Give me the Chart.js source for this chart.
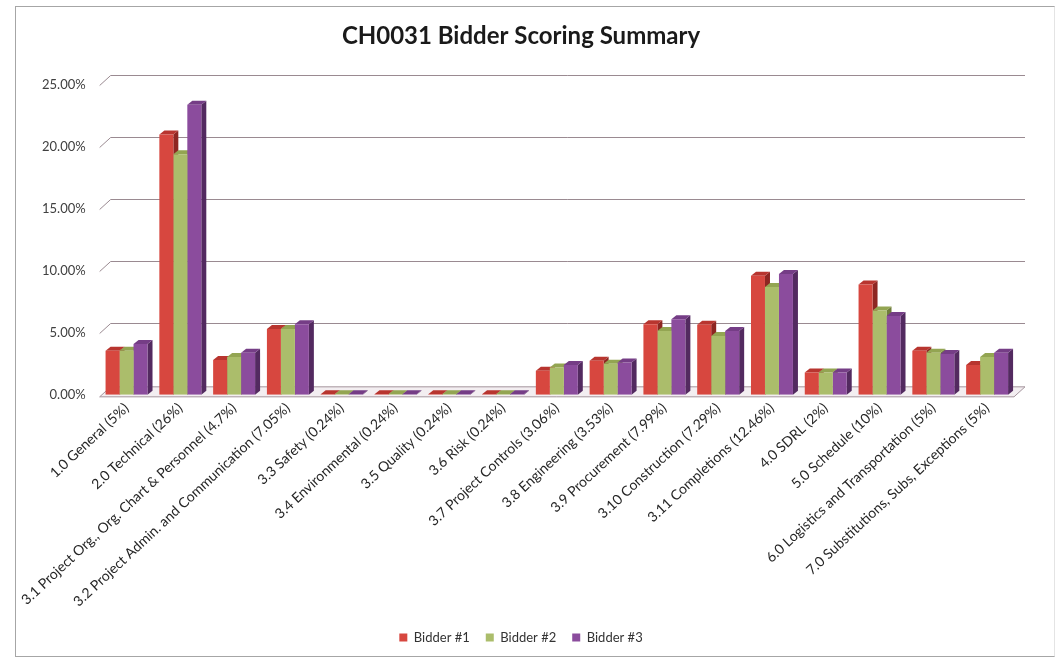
<!DOCTYPE html>
<html>
<head>
<meta charset="utf-8">
<title>CH0031 Bidder Scoring Summary</title>
<script src="https://cdn.jsdelivr.net/npm/chart.js@4/dist/chart.umd.min.js"></script>
<style>
  html, body { margin: 0; padding: 0; background: #fff; }
  #frame {
    position: absolute; left: 15px; top: 6px;
    width: 1038px; height: 649px;
    border: 1px solid #a6a6a6; border-right-color: #e4e4e4;
  }
  #frame canvas { display: block; }
</style>
</head>
<body>
<div id="frame"><canvas id="scoreChart"></canvas></div>
<script>
// ── Bidder scoring summary ────────────────────────────────────────────────────
// Weighted score per evaluation section, one series per bidder (in percent).

const categories = [
  '1.0 General (5%)',
  '2.0 Technical (26%)',
  '3.1 Project Org., Org. Chart & Personnel (4.7%)',
  '3.2 Project Admin. and Communication (7.05%)',
  '3.3 Safety (0.24%)',
  '3.4 Environmental (0.24%)',
  '3.5 Quality (0.24%)',
  '3.6 Risk (0.24%)',
  '3.7 Project Controls (3.06%)',
  '3.8 Engineering (3.53%)',
  '3.9 Procurement (7.99%)',
  '3.10 Construction (7.29%)',
  '3.11 Completions (12.46%)',
  '4.0 SDRL (2%)',
  '5.0 Schedule (10%)',
  '6.0 Logistics and Transportation (5%)',
  '7.0 Substitutions, Subs, Exceptions (5%)'
];

const bidder1 = [3.55, 21.0, 2.8, 5.3, 0.05, 0.05, 0.05, 0.05, 1.95, 2.75, 5.7, 5.65, 9.6, 1.8, 8.9, 3.55, 2.4];
const bidder2 = [3.55, 19.4, 3.05, 5.3, 0.05, 0.05, 0.05, 0.05, 2.2, 2.5, 5.15, 4.75, 8.7, 1.8, 6.8, 3.4, 3.05];
const bidder3 = [4.1, 23.4, 3.4, 5.7, 0.05, 0.05, 0.05, 0.05, 2.4, 2.6, 6.1, 5.15, 9.75, 1.8, 6.35, 3.3, 3.4];

const yTicks = [0, 5, 10, 15, 20, 25];

// front / top / side shades for each series
const shades = [
  { front: '#d7473f', top: '#b8352f', side: '#8e2622' },
  { front: '#abbd6b', top: '#93a552', side: '#6f7d3b' },
  { front: '#8b4c9d', top: '#753d86', side: '#532a60' }
];

const WALL_DX = 11, WALL_DY = -10;   // back wall offset
const BAR_DX = 5, BAR_DY = -4;       // bar depth

function poly(ctx, pts, fill, stroke) {
  ctx.beginPath();
  ctx.moveTo(pts[0][0], pts[0][1]);
  for (let i = 1; i < pts.length; i++) ctx.lineTo(pts[i][0], pts[i][1]);
  ctx.closePath();
  if (fill) { ctx.fillStyle = fill; ctx.fill(); }
  if (stroke) { ctx.strokeStyle = stroke; ctx.lineWidth = 1; ctx.stroke(); }
}

// Back-wall gridlines, floor slab and the bar tops/sides; the fronts are the
// regular Chart.js bars drawn afterwards.
const depth3d = {
  id: 'depth3d',
  beforeDatasetsDraw(chart) {
    const { ctx, chartArea: a, scales: { y } } = chart;
    ctx.save();

    // floor
    poly(ctx, [
      [a.left, a.bottom + 2], [a.right, a.bottom + 2],
      [a.right + WALL_DX, a.bottom + 2 + WALL_DY], [a.left + WALL_DX, a.bottom + 2 + WALL_DY]
    ], '#f3eef1', '#a4949c');

    // gridlines on the back wall with the slanted lead-in from the axis
    ctx.strokeStyle = '#9a8a91';
    ctx.lineWidth = 1;
    yTicks.forEach(v => {
      if (v === 0) return;
      const py = Math.round(y.getPixelForValue(v)) + 0.5;
      ctx.beginPath();
      ctx.moveTo(a.left, py);
      ctx.lineTo(a.left + WALL_DX, py + WALL_DY);
      ctx.lineTo(a.right + WALL_DX, py + WALL_DY);
      ctx.stroke();
    });

    // bar depth faces
    chart.data.datasets.forEach((ds, di) => {
      const meta = chart.getDatasetMeta(di);
      const sh = shades[di];
      meta.data.forEach(bar => {
        const { x, y: top, base, width } = bar.getProps(['x', 'y', 'base', 'width'], true);
        const l = x - width / 2, r = x + width / 2;
        poly(ctx, [[r, top], [r + BAR_DX, top + BAR_DY], [r + BAR_DX, base + BAR_DY], [r, base]], sh.side);
        poly(ctx, [[l, top], [l + BAR_DX, top + BAR_DY], [r + BAR_DX, top + BAR_DY], [r, top]], sh.top);
      });
    });
    ctx.restore();
  }
};

const series = [bidder1, bidder2, bidder3];
const names = ['Bidder #1', 'Bidder #2', 'Bidder #3'];

new Chart(document.getElementById('scoreChart'), {
  type: 'bar',
  data: {
    labels: categories,
    datasets: series.map((vals, i) => ({
      label: names[i],
      data: vals,
      backgroundColor: shades[i].front,
      borderWidth: 0,
      barPercentage: 1.0,
      categoryPercentage: 0.78
    }))
  },
  options: {
    responsive: true,
    maintainAspectRatio: false,
    animation: false,
    layout: { padding: { left: 12, right: 40, top: 0, bottom: 2 } },
    plugins: {
      title: {
        display: true,
        text: 'CH0031 Bidder Scoring Summary',
        color: '#1a1a1a',
        font: { family: 'Lato', size: 24, weight: 'bold' },
        padding: { top: 15, bottom: 34 }
      },
      legend: {
        position: 'bottom',
        labels: {
          color: '#333',
          font: { family: 'Lato', size: 13 },
          boxWidth: 8, boxHeight: 8, padding: 16
        }
      },
      tooltip: { enabled: false }
    },
    scales: {
      x: {
        grid: { display: false, drawTicks: false },
        border: { display: false },
        ticks: {
          color: '#262626',
          font: { family: 'Lato', size: 14 },
          minRotation: 43, maxRotation: 43,
          autoSkip: false,
          padding: 5
        }
      },
      y: {
        min: 0, max: 25,
        afterBuildTicks: axis => { axis.ticks = yTicks.map(v => ({ value: v })); },
        grid: { display: false, drawTicks: false },
        border: { display: false },
        ticks: {
          color: '#404040',
          font: { family: 'Lato', size: 13 },
          padding: 14,
          callback: v => v.toFixed(2) + '%'
        }
      }
    }
  },
  plugins: [depth3d]
});
</script>
</body>
</html>
